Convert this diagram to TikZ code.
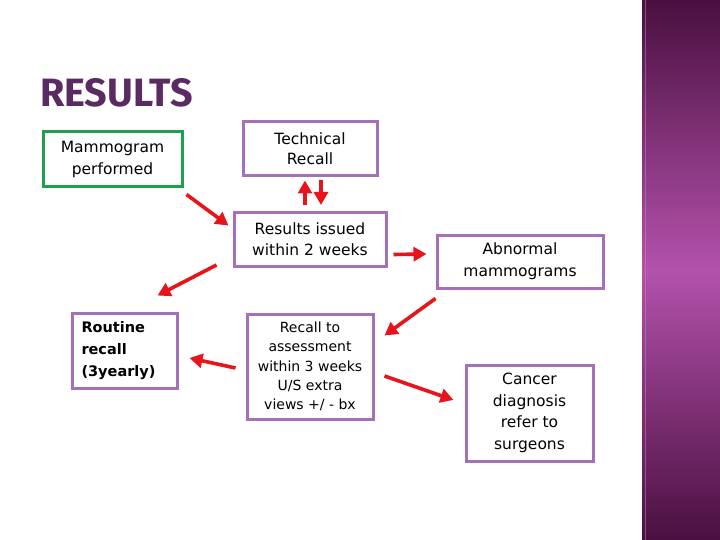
\documentclass[tikz,border=0pt]{standalone}
\usepackage{fontspec}
\setmainfont{DejaVu Sans}
\newfontfamily\titlefont{Fira Sans}
\usetikzlibrary{arrows.meta,calc}
\definecolor{boxpurple}{HTML}{A470B8}
\definecolor{boxgreen}{HTML}{1EA04E}
\definecolor{arrred}{HTML}{E8141C}
\definecolor{titlepurple}{HTML}{5A2A62}
\definecolor{banddark}{HTML}{4A1040}
\definecolor{bandmid}{HTML}{B452AC}
\tikzset{
  box/.style={draw=boxpurple, line width=3pt, fill=white, align=center, inner sep=0pt, font=\fontsize{15.5}{21}\selectfont},
  arr/.style={draw=arrred, line width=3.6pt, -{Triangle[length=13pt,width=14pt]}},
}
\begin{document}
\begin{tikzpicture}[x=1pt,y=-1pt]
\useasboundingbox (0,0) rectangle (720,540);
\fill[white] (0,0) rectangle (720,540);
% right band
\shade[top color=banddark, bottom color=bandmid] (642,0) rectangle (720,270);
\shade[top color=bandmid, bottom color=banddark] (642,270) rectangle (720,540);
\draw[bandmid!70!white, line width=0.8pt, opacity=0.5] (645,0) -- (645,540);
% title
\node[anchor=west, text=titlepurple, font=\titlefont\bfseries\fontsize{39.5}{39.5}\selectfont, inner sep=0pt] (title) at (40,93) {RESULTS};
% boxes
\node[box, draw=boxgreen, minimum width=139pt, minimum height=55pt, font=\fontsize{15.5}{22}\selectfont] (mam) at (112.5,159.5) {Mammogram\\performed};
\node[box, minimum width=134pt, minimum height=54pt, font=\fontsize{15.5}{20}\selectfont] (tech) at (310,149) {Technical\\Recall};
\node[box, minimum width=152pt, minimum height=54pt] (res) at (310,239.5) {Results issued\\within 2 weeks};
\node[box, minimum width=166pt, minimum height=53pt, font=\fontsize{15.5}{22}\selectfont] (abn) at (520,261.5) {Abnormal\\mammograms};
\node[box, minimum width=105pt, minimum height=75pt, align=left, text width=86pt, font=\bfseries\fontsize{14.5}{22}\selectfont] (rout) at (124.5,350.5) {Routine\\recall\\(3yearly)};
\node[box, minimum width=126pt, minimum height=105pt, font=\fontsize{14}{19.3}\selectfont] (rec) at (310,366.5) {Recall to\\assessment\\within 3 weeks\\U/S extra\\views +/ - bx};
\node[box, minimum width=127pt, minimum height=96pt, font=\fontsize{15.5}{21.5}\selectfont] (can) at (529.5,413) {Cancer\\diagnosis\\refer to\\surgeons};
% arrows
\draw[arr] ([shift={(3,6)}]mam.south east) -- ([shift={(-4,-14)}]res.west);
\draw[arr] ([shift={(-5,-6)}]res.north) -- ([shift={(-5,3)}]tech.south);
\draw[arr] ([shift={(11,3)}]tech.south) -- ([shift={(11,-6)}]res.north);
\draw[arr] ([shift={(-16,-3)}]res.south west) -- ([shift={(33,-16)}]rout.north);
\draw[arr] ([shift={(6,15)}]res.east) -- ([shift={(-9,-7.5)}]abn.west);
\draw[arr] ([shift={(0,9)}]abn.south west) -- ([shift={(10,23)}]rec.north east);
\draw[arr] ([shift={(-10,1.5)}]rec.west) -- ([shift={(11,7.5)}]rout.east);
\draw[arr] ([shift={(10,9.5)}]rec.east) -- ([shift={(-11,-13)}]can.west);
\end{tikzpicture}
\end{document}
